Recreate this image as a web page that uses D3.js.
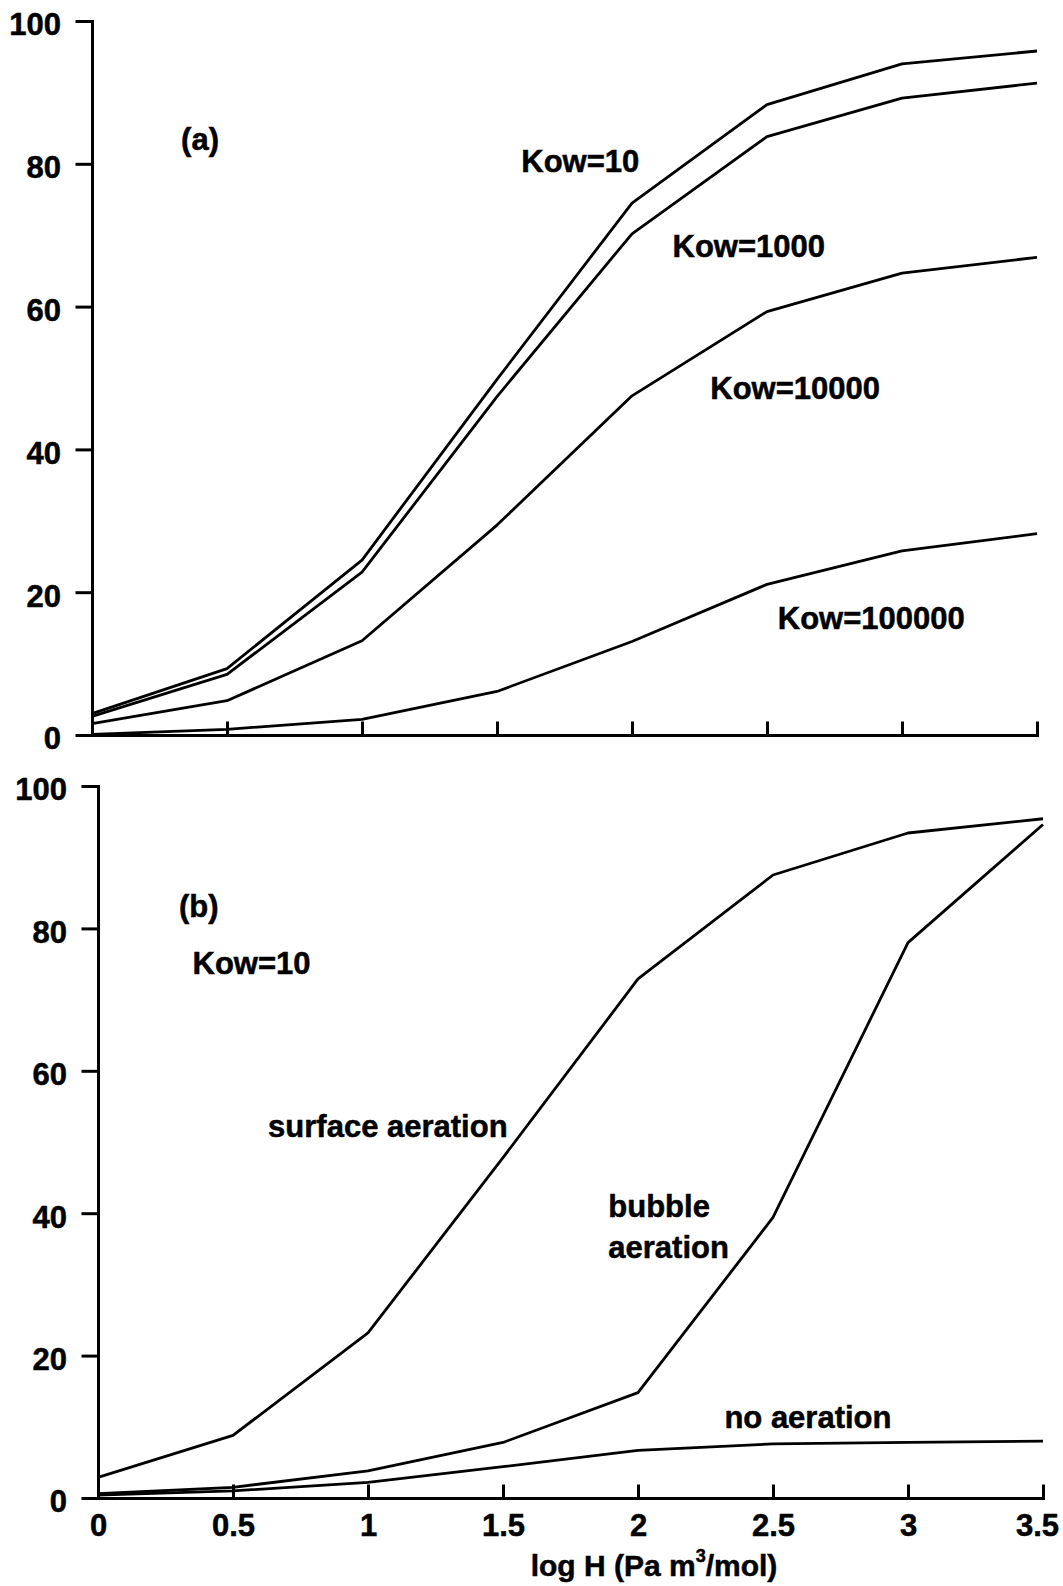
<html>
<head>
    <meta charset="UTF-8">
    <title>Percent volatilized vs log H</title>
    <script src="https://d3js.org/d3.v7.min.js"></script>
    <style>
        body { margin: 0; background: #fff; }
        text { font-family: "Liberation Sans", Arial, Helvetica, sans-serif; font-weight: bold; fill: #000; stroke: #000; stroke-width: 0.5px; }
    </style>
</head>
<body>
    <svg width="1063" height="1586"></svg>
    <script>
        // values
        var logH = [0, 0.5, 1, 1.5, 2, 2.5, 3, 3.5];
        var yTicks = [0, 20, 40, 60, 80, 100];

        // panel (a): different Kow
        var kow10     = [3.0, 9.3, 24.5, 49.8, 74.5, 88.3, 94.0, 95.8];
        var kow1000   = [2.6, 8.5, 22.8, 47.4, 70.2, 83.8, 89.2, 91.3];
        var kow10000  = [1.6, 4.8, 13.2, 29.4, 47.5, 59.3, 64.7, 66.9];
        var kow100000 = [0.1, 0.8, 2.2, 6.1, 13.1, 21.1, 25.8, 28.2];

        // panel (b): Kow=10, aeration types
        var surfaceAer = [2.9, 8.8, 23.2, 47.8, 72.9, 87.5, 93.4, 95.4];
        var bubbleAer  = [0.6, 1.5, 3.8, 7.8, 14.8, 39.4, 78.0, 94.6];
        var noAer      = [0.4, 1.0, 2.2, 4.4, 6.7, 7.6, 7.8, 8.0];

        var svg = d3.select('svg');
        var fs = 31;

        var panels = [
            { series: [kow10, kow1000, kow10000, kow100000],
              x0: 92, x1: 1037, yTop: 21, yBottom: 735, xLabels: false,
              notes: [['(a)', 0.33, 82], ['Kow=10', 1.59, 78.9], ['Kow=1000', 2.15, 67.0],
                      ['Kow=10000', 2.29, 47.0], ['Kow=100000', 2.54, 14.8]] },
            { series: [surfaceAer, bubbleAer, noAer],
              x0: 98, x1: 1043, yTop: 786, yBottom: 1498, xLabels: true,
              notes: [['(b)', 0.30, 81.6], ['Kow=10', 0.35, 73.6], ['surface aeration', 0.63, 50.7],
                      ['bubble', 1.89, 39.5], ['aeration', 1.89, 33.7], ['no aeration', 2.32, 9.8]] }
        ];

        panels.forEach(function(p) {
            var x = d3.scaleLinear().domain([0, 3.5]).range([p.x0, p.x1]);
            var y = d3.scaleLinear().domain([0, 100]).range([p.yBottom, p.yTop]);
            var g = svg.append('g');

            var xAxis = d3.axisBottom(x).tickValues(logH).tickSize(-12).tickSizeOuter(0).tickPadding(16)
                .tickFormat(p.xLabels ? d3.format('') : '');
            var gx = g.append('g')
                .attr('transform', 'translate(0,' + p.yBottom + ')')
                .call(xAxis);
            // last label sits a little left of its tick, as in the original
            gx.selectAll('.tick text').filter(function(d) { return d === 3.5; }).attr('dx', -6);

            g.append('g')
                .attr('transform', 'translate(' + p.x0 + ',0)')
                .call(d3.axisLeft(y).tickValues(yTicks).tickSize(15).tickSizeOuter(0).tickPadding(16))
                .selectAll('.tick text').attr('dy', '0.45em');

            g.selectAll('.domain, .tick line')
                .attr('stroke', '#000').attr('stroke-width', 3).attr('stroke-linecap', 'square');
            g.selectAll('.tick text')
                .attr('font-size', fs).attr('font-family', '"Liberation Sans", Arial, sans-serif')
                .attr('font-weight', 'bold').attr('fill', '#000');

            var line = d3.line().x(function(d, i) { return x(logH[i]); }).y(function(d) { return y(d); });
            p.series.forEach(function(s) {
                g.append('path')
                    .datum(s)
                    .attr('fill', 'none')
                    .attr('stroke', '#000')
                    .attr('stroke-width', 2.8)
                    .attr('stroke-linejoin', 'round')
                    .attr('d', line);
            });

            p.notes.forEach(function(n) {
                g.append('text')
                    .attr('x', x(n[1]))
                    .attr('y', y(n[2]))
                    .attr('font-size', fs)
                    .text(n[0]);
            });
        });

        // x axis title with superscript
        var title = svg.append('text')
            .attr('x', 654).attr('y', 1576)
            .attr('text-anchor', 'middle')
            .attr('font-size', 30);
        title.append('tspan').text('log H (Pa m');
        title.append('tspan').attr('dy', -14).attr('font-size', 18).text('3');
        title.append('tspan').attr('dy', 14).text('/mol)');
    </script>
</body>
</html>
